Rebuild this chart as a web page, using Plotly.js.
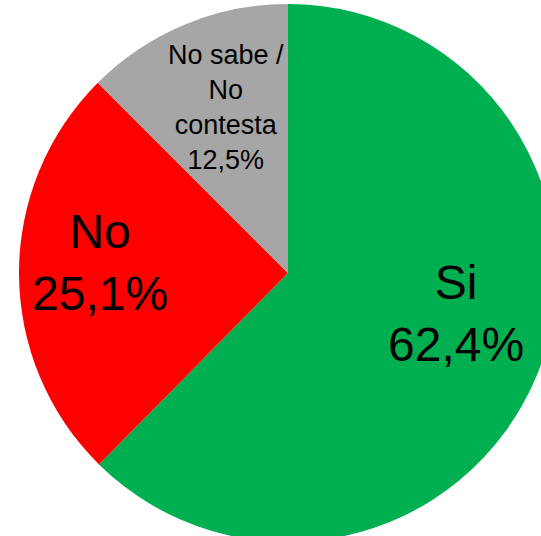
<!DOCTYPE html>
<html>
<head>
<meta charset="utf-8">
<script src="https://cdn.plot.ly/plotly-3.0.1.min.js"></script>
<style>
html,body{margin:0;padding:0;overflow:hidden;background:#fff;width:541px;height:536px;}
#chart{width:557px;height:542px;}
</style>
</head>
<body>
<div id="chart"></div>
<script>
var labels = ["Si", "No", "No sabe /<br>No<br>contesta"];
var values = [62.4, 25.1, 12.5];
var colors = ["#00B050", "#FF0000", "#A6A6A6"];
var fontSizes = [48, 48, 27];
var labelPos = [[0.812, 0.425], [0.15, 0.52], [0.384, 0.807]];

function fmt(v){ return v.toFixed(1).replace(".", ",") + "%"; }

var annotations = labels.map(function(l, i){
  return {
    text: l + "<br>" + fmt(values[i]),
    x: labelPos[i][0], y: labelPos[i][1],
    xref: "paper", yref: "paper",
    xanchor: "center", yanchor: "middle",
    showarrow: false,
    font: {family: "Liberation Sans, Arial, sans-serif", size: fontSizes[i], color: "#000"}
  };
});

var data = [{
  type: "pie",
  labels: labels,
  values: values,
  sort: false,
  direction: "clockwise",
  rotation: 0,
  marker: {colors: colors, line: {width: 0}},
  textinfo: "none",
  hoverinfo: "label+percent",
  showlegend: false
}];

var layout = {
  width: 557, height: 542,
  margin: {l: 19, r: 0, t: 4, b: 0, pad: 0},
  paper_bgcolor: "#fff",
  showlegend: false,
  annotations: annotations
};

Plotly.newPlot("chart", data, layout, {staticPlot: true, displayModeBar: false});
</script>
</body>
</html>
